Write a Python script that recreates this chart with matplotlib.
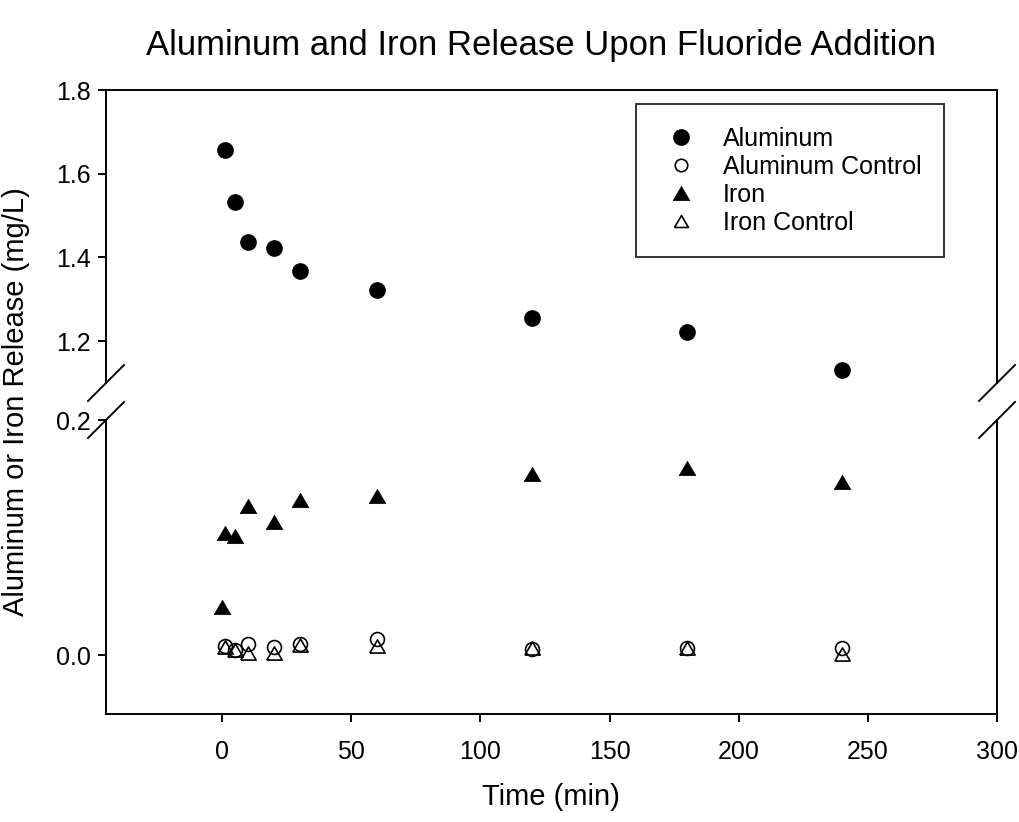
import matplotlib.pyplot as plt
from matplotlib.lines import Line2D

plt.rcParams['font.family'] = ['Liberation Sans', 'DejaVu Sans']

time = [1, 5, 10, 20, 30, 60, 120, 180, 240]
aluminum = [1.657, 1.533, 1.437, 1.422, 1.368, 1.323, 1.256, 1.223, 1.130]
aluminum_control = [0.0079, 0.0045, 0.0099, 0.0070, 0.0093, 0.0136, 0.0050, 0.0059, 0.0057]

iron_time = [0, 1, 5, 10, 20, 30, 60, 120, 180, 240]
iron = [0.041, 0.1036, 0.101, 0.127, 0.113, 0.132, 0.135, 0.154, 0.159, 0.147]
iron_control = [0.0068, 0.0045, 0.0017, 0.0017, 0.0087, 0.0074, 0.0060, 0.0060, 0.0008]

# slightly squat triangle, closed path
tri = [(-1, -0.86), (1, -0.86), (0, 0.86), (-1, -0.86)]

fig = plt.figure(figsize=(10.19, 8.22), dpi=100)
L, W = 106 / 1019, 891 / 1019
ax_top = fig.add_axes([L, 1 - 383 / 822, W, 293 / 822])
ax_bot = fig.add_axes([L, 1 - 714 / 822, W, 294 / 822])

for ax in (ax_top, ax_bot):
    ax.plot(time, aluminum, ls='none', marker='o', ms=11, mfc='black', mec='black', mew=1)
    ax.plot(time, aluminum_control, ls='none', marker='o', ms=10, mfc='none', mec='black', mew=1.2)
    ax.plot(iron_time, iron, ls='none', marker=tri, ms=12, mfc='black', mec='black', mew=0.5)
    ax.plot(time, iron_control, ls='none', marker=tri, ms=11, mfc='none', mec='black', mew=1.2)
    ax.set_xlim(-45, 300)
    for s in ax.spines.values():
        s.set_linewidth(1.4)
    ax.tick_params(direction='out', length=6, width=1.4, labelsize=18, right=False, top=False)

ax_top.set_ylim(1.1, 1.8)
ax_top.set_yticks([1.2, 1.4, 1.6, 1.8])
ax_top.spines['bottom'].set_visible(False)
ax_top.tick_params(bottom=False, labelbottom=False, pad=5)

ax_bot.set_ylim(-0.05, 0.2)
ax_bot.set_yticks([0.0, 0.2])
ax_bot.set_xticks([0, 50, 100, 150, 200, 250, 300])
ax_bot.spines['top'].set_visible(False)
ax_bot.tick_params(axis='y', pad=5)
ax_bot.tick_params(axis='x', pad=13)
ax_bot.yaxis.set_major_formatter(plt.FormatStrFormatter('%.1f'))
ax_top.yaxis.set_major_formatter(plt.FormatStrFormatter('%.1f'))

# break marks
dx, dy = 18 / 1019, 18 / 822
for xs in (106 / 1019, 997 / 1019):
    for ys in (1 - 383 / 822, 1 - 420 / 822):
        fig.add_artist(Line2D([xs - dx, xs + dx], [ys - dy, ys + dy], color='black', lw=1.4))

handles = [
    Line2D([], [], ls='none', marker='o', ms=11, mfc='black', mec='black', mew=1),
    Line2D([], [], ls='none', marker='o', ms=9, mfc='none', mec='black', mew=1.2),
    Line2D([], [], ls='none', marker=tri, ms=12, mfc='black', mec='black', mew=0.5),
    Line2D([], [], ls='none', marker=tri, ms=10, mfc='none', mec='black', mew=1.2),
]
labels = ['Aluminum', 'Aluminum Control', 'Iron', 'Iron Control']
leg = fig.legend(handles, labels, loc='upper left', bbox_to_anchor=(636 / 1019, 1 - 104 / 822),
                 fontsize=18, frameon=True, fancybox=False, edgecolor='black',
                 borderpad=0.9, labelspacing=0.16, handletextpad=0.78, handlelength=1.8,
                 borderaxespad=0)
leg.get_frame().set_linewidth(1.4)

fig.text(541 / 1019, 1 - 45 / 822, 'Aluminum and Iron Release Upon Fluoride Addition',
         ha='center', va='center', fontsize=25)
fig.text(551 / 1019, 1 - 797 / 822, 'Time (min)', ha='center', va='center', fontsize=21)
fig.text(16 / 1019, 1 - 402 / 822, 'Aluminum or Iron Release (mg/L)', ha='center', va='center',
         rotation=90, fontsize=21)

fig.savefig('out.png', dpi=100)
